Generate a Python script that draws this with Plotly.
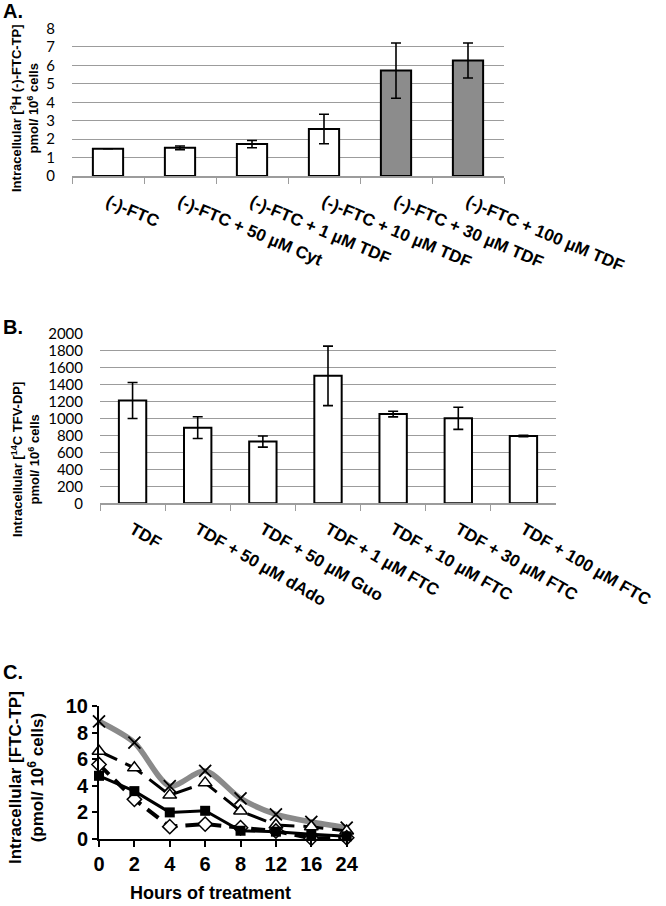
import plotly.graph_objects as go

W, H = 666, 906

# ---------- Panel A data ----------
a_labels = ["(-)-FTC", "(-)-FTC + 50 µM Cyt", "(-)-FTC + 1 µM TDF",
            "(-)-FTC + 10 µM TDF", "(-)-FTC + 30 µM TDF", "(-)-FTC + 100 µM TDF"]
a_values = [1.48, 1.53, 1.73, 2.55, 5.72, 6.27]
a_errors = [0.0, 0.1, 0.2, 0.8, 1.5, 0.95]
a_fill = ["white", "white", "white", "white", "#8c8c8c", "#8c8c8c"]
a_yticks = [0, 1, 2, 3, 4, 5, 6, 7, 8]

# ---------- Panel B data ----------
b_labels = ["TDF", "TDF + 50 µM dAdo", "TDF + 50 µM Guo", "TDF + 1 µM FTC",
            "TDF + 10 µM FTC", "TDF + 30 µM FTC", "TDF + 100 µM FTC"]
b_values = [1210, 890, 727, 1500, 1050, 1000, 793]
b_errors = [212, 128, 66, 350, 33, 130, 8]
b_yticks = [0, 200, 400, 600, 800, 1000, 1200, 1400, 1600, 1800, 2000]

# ---------- Panel C data ----------
c_hours = ["0", "2", "4", "6", "8", "12", "16", "24"]
c_cross = [8.85, 7.25, 3.98, 5.12, 3.05, 1.85, 1.28, 0.85]
c_triangle = [6.6, 5.35, 3.3, 4.22, 2.1, 1.05, 0.92, 0.6]
c_diamond = [5.6, 2.98, 0.93, 1.12, 0.85, 0.6, 0.05, 0.1]
c_square = [4.75, 3.6, 2.0, 2.12, 0.62, 0.55, 0.35, 0.2]
c_yticks = [0, 2, 4, 6, 8, 10]


def px_x(p):
    return p / W


def px_y(p):
    return 1 - p / H


fig = go.Figure()

TICKFONT = dict(family="Liberation Sans", size=17, color="black", weight="bold")
NUMFONT = dict(family="Lato", size=15, color="black")
GRID = "#9c9c9c"

# Panel A
fig.add_trace(go.Bar(
    x=a_labels, y=a_values,
    error_y=dict(type="data", array=a_errors, visible=True, color="black",
                 thickness=1.6, width=5),
    marker=dict(color=a_fill, line=dict(color="black", width=2)),
    width=0.42, xaxis="x", yaxis="y", showlegend=False))

# Panel B
fig.add_trace(go.Bar(
    x=b_labels, y=b_values,
    error_y=dict(type="data", array=b_errors, visible=True, color="black",
                 thickness=1.6, width=5),
    marker=dict(color="white", line=dict(color="black", width=2)),
    width=0.42, xaxis="x2", yaxis="y2", showlegend=False))

# Panel C
xc = list(range(len(c_hours)))
fig.add_trace(go.Scatter(
    x=xc, y=c_cross, mode="lines+markers",
    line=dict(color="#8a8a8a", width=5.5, shape="spline", smoothing=0.8),
    marker=dict(symbol="x-thin", size=12, color="black",
                line=dict(color="black", width=1.8)),
    xaxis="x3", yaxis="y3", showlegend=False, cliponaxis=False))
fig.add_trace(go.Scatter(
    x=xc, y=c_triangle, mode="lines+markers",
    line=dict(color="black", width=3, dash="20px,9px"),
    marker=dict(symbol="triangle-up", size=12, color="white",
                line=dict(color="black", width=1.5)),
    xaxis="x3", yaxis="y3", showlegend=False, cliponaxis=False))
fig.add_trace(go.Scatter(
    x=xc, y=c_diamond, mode="lines+markers",
    line=dict(color="black", width=4, dash="14px,8px"),
    marker=dict(symbol="diamond", size=11, color="white",
                line=dict(color="black", width=1.5)),
    xaxis="x3", yaxis="y3", showlegend=False, cliponaxis=False))
fig.add_trace(go.Scatter(
    x=xc, y=c_square, mode="lines+markers",
    line=dict(color="black", width=3),
    marker=dict(symbol="square", size=10, color="black"),
    xaxis="x3", yaxis="y3", showlegend=False, cliponaxis=False))

cat_axis = dict(type="category", showline=True, linecolor=GRID, linewidth=1.5,
                ticks="outside", tickson="boundaries", tickcolor=GRID, ticklen=6,
                tickwidth=1.2, tickfont=TICKFONT, showgrid=False,
                ticklabelstandoff=8,
                zeroline=False, fixedrange=True, automargin=False)

num_axis = dict(showgrid=True, gridcolor=GRID, gridwidth=1.3, zeroline=False,
                showline=False, ticks="outside", ticklen=13,
                tickcolor="rgba(0,0,0,0)", tickfont=NUMFONT, automargin=False)

fig.update_layout(
    width=W, height=H, margin=dict(l=0, r=0, t=0, b=0, autoexpand=False),
    paper_bgcolor="white", plot_bgcolor="white", bargap=0.5,
    xaxis=dict(cat_axis, domain=[px_x(72), px_x(504)], anchor="y", tickangle=23),
    yaxis=dict(num_axis, domain=[px_y(176), px_y(28)], range=[0, 8.03],
               tickvals=a_yticks, anchor="x"),
    xaxis2=dict(cat_axis, domain=[px_x(100), px_x(556)], anchor="y2", tickangle=30),
    yaxis2=dict(num_axis, domain=[px_y(503.3), px_y(332.7)], range=[0, 2008],
                tickvals=b_yticks, anchor="x2"),
    xaxis3=dict(domain=[px_x(99), px_x(352)], range=[0, 7.15], tickvals=xc,
                ticktext=c_hours, showline=True, linecolor="black", linewidth=2,
                ticks="outside", ticklen=6, tickwidth=2, tickcolor="black",
                showgrid=False, zeroline=False, automargin=False,
                tickfont=dict(family="Liberation Sans", size=20, color="black",
                              weight="bold"),
                anchor="y3"),
    yaxis3=dict(domain=[px_y(839), px_y(706)], range=[0, 10], tickvals=c_yticks,
                showline=True, linecolor="black", linewidth=2, ticks="outside",
                ticklen=5, tickwidth=2, tickcolor="black", showgrid=False,
                zeroline=False, automargin=False,
                tickfont=dict(family="Liberation Sans", size=20, color="black",
                              weight="bold"),
                anchor="x3"),
)

ann_font = dict(family="Liberation Sans", color="black", weight="bold")
annotations = [
    dict(text="A.", x=px_x(1), y=px_y(11), xanchor="left", yanchor="middle",
         font=dict(ann_font, size=20)),
    dict(text="B.", x=px_x(1), y=px_y(327), xanchor="left", yanchor="middle",
         font=dict(ann_font, size=20)),
    dict(text="C.", x=px_x(1), y=px_y(672), xanchor="left", yanchor="middle",
         font=dict(ann_font, size=20)),
    dict(text="Intracellular [<sup>3</sup>H (-)-FTC-TP]<br>pmol/ 10<sup>6</sup> cells",
         x=px_x(25), y=px_y(108), textangle=-90, xanchor="center", yanchor="middle",
         font=dict(ann_font, size=13)),
    dict(text="Intracellular [<sup>14</sup>C TFV-DP]<br>pmol/ 10<sup>6</sup> cells",
         x=px_x(25), y=px_y(460), textangle=-90, xanchor="center", yanchor="middle",
         font=dict(ann_font, size=13)),
    dict(text="Intracellular [FTC-TP]<br>(pmol/ 10<sup>6</sup> cells)",
         x=px_x(26), y=px_y(778), textangle=-90, xanchor="center", yanchor="middle",
         font=dict(ann_font, size=17)),
    dict(text="Hours of treatment", x=px_x(210), y=px_y(893), xanchor="center",
         yanchor="middle", font=dict(ann_font, size=18)),
]
for a in annotations:
    a.update(xref="paper", yref="paper", showarrow=False)
fig.update_layout(annotations=annotations)

fig.write_html("out.html", config={"displayModeBar": False},
               post_script="document.body.style.margin='0px';"
                           "document.body.style.padding='0px';")
